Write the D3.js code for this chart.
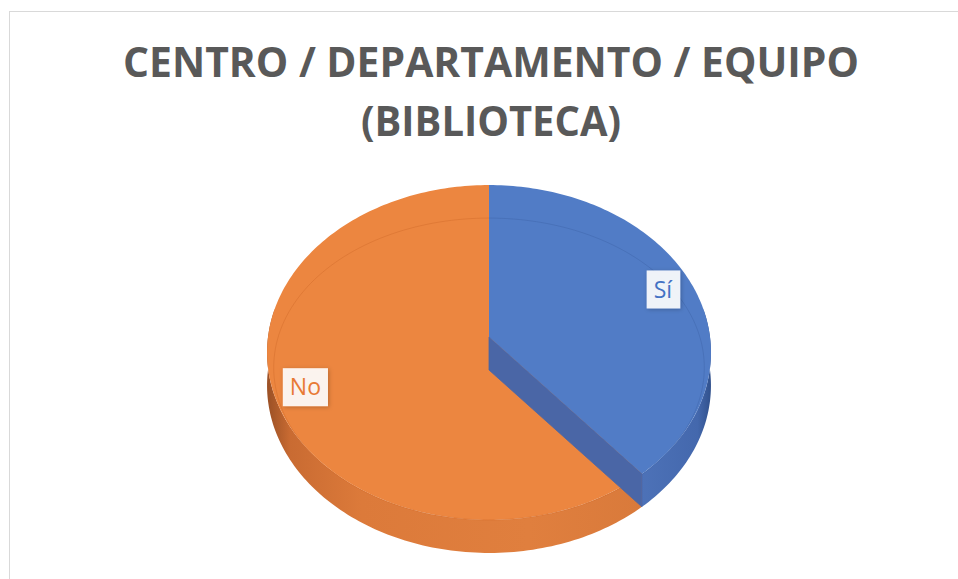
<!DOCTYPE html>
<html>
<head>
<meta charset="utf-8">
<script src="https://cdn.jsdelivr.net/npm/d3@7"></script>
<style>
  body { margin: 0; background: #fff; }
  svg { display: block; }
</style>
</head>
<body>
<svg id="chart" width="958" height="579"></svg>
<script>
// data
var labels = ["Sí", "No"]
var values = [7, 11]
var titleLines = ["CENTRO / DEPARTAMENTO / EQUIPO", "(BIBLIOTECA)"]

var topColor = ["#517cc6", "#ec8640"]
var textColor = ["#4472c4", "#e87a35"]

var SVG = d3.select("#chart")

// chart frame
SVG.append("rect")
  .attr("x", 9.5).attr("y", 11.5)
  .attr("width", 1000).attr("height", 1000)
  .style("fill", "none")
  .style("stroke", "#d9d9d9")

// title
SVG.selectAll("titles")
  .data(titleLines)
  .enter()
  .append("text")
    .attr("x", 491)
    .attr("y", function(d, i){ return 77 + i*59 })
    .attr("text-anchor", "middle")
    .attr("textLength", function(d, i){ return i == 0 ? 736 : 260 })
    .attr("lengthAdjust", "spacingAndGlyphs")
    .style("font-family", "'Open Sans', sans-serif")
    .style("font-weight", "bold")
    .style("font-size", "42px")
    .style("fill", "#595959")
    .text(function(d){ return d })

// 3d pie geometry (perspective view of a disc)
var bx = 489, by = 337   // projected centre of the top face
var rx = 221, ry = 166
var persp = 0.0926
var depth = 33

function proj(theta, k, drop) {
  var u = Math.sin(theta) * k, v = -Math.cos(theta) * k
  var w = 1 - persp * v
  return [bx + rx * u / w, by + ry * v / w + (drop || 0)]
}

function arcPoints(a0, a1, k, drop) {
  var n = Math.max(2, Math.ceil(Math.abs(a1 - a0) / 0.02))
  return d3.range(n + 1).map(function(i){ return proj(a0 + (a1 - a0) * i / n, k, drop) })
}

var pie = d3.pie().sort(null)
var slices = pie(values)

var line = d3.line()

// gradients for the side walls
var defs = SVG.append("defs")
var gO = defs.append("linearGradient").attr("id", "sideNo")
  .attr("gradientUnits", "userSpaceOnUse")
  .attr("x1", 268).attr("x2", 640).attr("y1", 0).attr("y2", 0)
gO.append("stop").attr("offset", "0").attr("stop-color", "#9c5126")
gO.append("stop").attr("offset", "0.06").attr("stop-color", "#c96b32")
gO.append("stop").attr("offset", "0.25").attr("stop-color", "#dc7a3a")
gO.append("stop").attr("offset", "0.7").attr("stop-color", "#e07f3e")
gO.append("stop").attr("offset", "1").attr("stop-color", "#d97a3b")

var gS = defs.append("linearGradient").attr("id", "sideSi")
  .attr("gradientUnits", "userSpaceOnUse")
  .attr("x1", 640).attr("x2", 712).attr("y1", 0).attr("y2", 0)
gS.append("stop").attr("offset", "0").attr("stop-color", "#4d72b8")
gS.append("stop").attr("offset", "0.8").attr("stop-color", "#4468ad")
gS.append("stop").attr("offset", "1").attr("stop-color", "#2f4f8a")

var shadow = defs.append("filter").attr("id", "glow")
  .attr("x", "-30%").attr("y", "-30%").attr("width", "160%").attr("height", "160%")
shadow.append("feDropShadow")
  .attr("dx", 1).attr("dy", 1).attr("stdDeviation", 2)
  .attr("flood-color", "#000").attr("flood-opacity", 0.25)

// side walls (front part only)
var lo = Math.PI * 80 / 180, hi = Math.PI * 280 / 180
SVG.selectAll("sides")
  .data(slices)
  .enter()
  .append("path")
    .attr("d", function(d){
      var a0 = Math.max(d.startAngle, lo), a1 = Math.min(d.endAngle, hi)
      if (a1 <= a0) return null
      var pts = arcPoints(a0, a1, 1, 0).concat(arcPoints(a1, a0, 1, depth))
      return line(pts) + "Z"
    })
    .style("fill", function(d, i){ return i == 0 ? "url(#sideSi)" : "url(#sideNo)" })

// top faces
var tops = SVG.selectAll("tops")
  .data(slices)
  .enter()
  .append("path")
    .attr("d", function(d){
      return line([[bx, by]].concat(arcPoints(d.startAngle, d.endAngle, 1, 0))) + "Z"
    })
    .style("fill", function(d, i){ return topColor[i] })

// faint bevel line on the top face
SVG.selectAll("bevels")
  .data(slices)
  .enter()
  .append("path")
    .attr("d", function(d){
      var n = 120
      var pts = d3.range(n + 1).map(function(j){
        var a = d.startAngle + (d.endAngle - d.startAngle) * j / n
        var p = proj(a, 1, depth * (1 + Math.cos(a)) / 2)
        return [bx + (p[0] - bx) * 0.97, p[1]]
      })
      return line(pts)
    })
    .style("fill", "none")
    .style("stroke", function(d, i){ return i == 0 ? "#3f64a8" : "#d06a2a" })
    .style("stroke-opacity", 0.45)
    .style("stroke-width", 1)

// cut face of the first slice, shown at its end angle
var endA = slices[0].endAngle
var pEnd = proj(endA, 1, 0)
var pEndLow = proj(endA, 1, depth)
SVG.append("path")
  .attr("d", line([[bx, by], pEnd, pEndLow, [bx, by + depth]]) + "Z")
  .style("fill", "#4a66a6")
  .style("stroke", "#4a66a6")
  .style("stroke-width", 0.8)

// data labels
var labelG = SVG.selectAll("labels")
  .data(slices)
  .enter()
  .append("g")
    .attr("transform", function(d){
      var p = proj((d.startAngle + d.endAngle) / 2, 0.86, 0)
      return "translate(" + p[0] + "," + p[1] + ")"
    })

var boxes = labelG.append("rect")
  .style("fill", "#fff")
  .style("fill-opacity", 0.9)
  .attr("filter", "url(#glow)")

labelG.append("text")
  .attr("text-anchor", "middle")
  .attr("dy", "0.36em")
  .style("font-family", "'Open Sans', sans-serif")
  .style("font-size", "23px")
  .style("fill", function(d, i){ return textColor[i] })
  .text(function(d, i){ return labels[i] })

labelG.each(function(){
  var g = d3.select(this)
  var b = g.select("text").node().getBBox()
  g.select("rect")
    .attr("x", b.x - 7).attr("y", -19)
    .attr("width", b.width + 14).attr("height", 38)
})
</script>
</body>
</html>
